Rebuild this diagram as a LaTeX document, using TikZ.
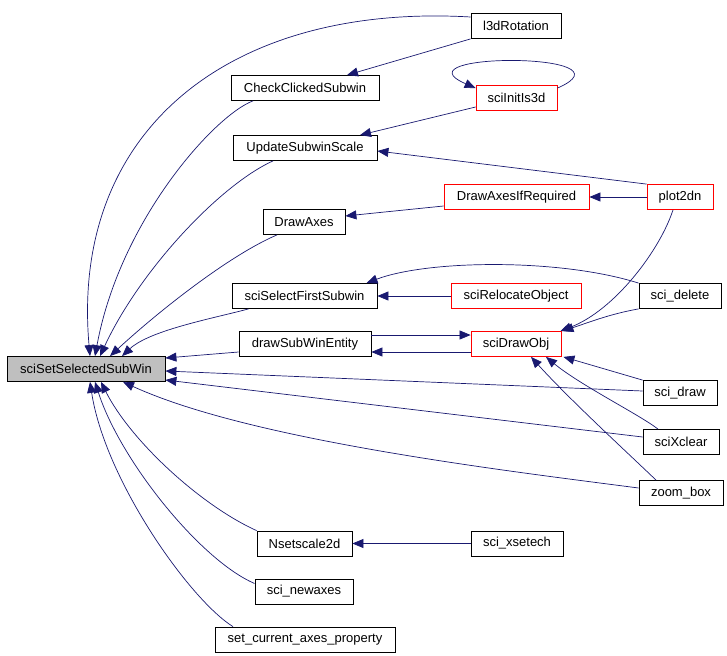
\documentclass[tikz,border=0pt]{standalone}
\usepackage{fontspec}
\setmainfont{Liberation Sans}
\usetikzlibrary{arrows.meta}
\definecolor{edgeblue}{HTML}{191970}
\definecolor{boxgray}{HTML}{BFBFBF}

\begin{document}
\begin{tikzpicture}[x=1pt, y=-1pt,
    fn/.style={draw=black, line width=0.8pt, fill=white, minimum height=25pt,
        inner sep=0pt, font=\fontsize{13}{15}\selectfont},
    fnred/.style={fn, draw=red},
    call/.style={draw=edgeblue, line width=0.7pt, -{Triangle[length=11pt,width=9pt]}}]
    \useasboundingbox (0,0) rectangle (727,655);

    \node[fn, fill=boxgray, minimum width=158pt] (sel) at (86,369) {sciSetSelectedSubWin};
    \node[fn, minimum width=90pt] (rot) at (516,26) {l3dRotation};
    \node[fn, minimum width=148pt] (ccs) at (305,88) {CheckClickedSubwin};
    \node[fnred, minimum width=81pt] (init) at (516.5,98) {sciInitIs3d};
    \node[fn, minimum width=144pt] (uss) at (305,148) {UpdateSubwinScale};
    \node[fnred, minimum width=145pt] (dair) at (516.5,197) {DrawAxesIfRequired};
    \node[fnred, minimum width=66pt] (plot) at (680,197) {plot2dn};
    \node[fn, minimum width=82pt] (dax) at (304,222) {DrawAxes};
    \node[fn, minimum width=145pt] (sfs) at (304.5,296) {sciSelectFirstSubwin};
    \node[fnred, minimum width=130pt] (rel) at (516,296) {sciRelocateObject};
    \node[fn, minimum width=82pt] (del) at (680,296) {sci\_delete};
    \node[fn, minimum width=132pt] (dswe) at (305,344) {drawSubWinEntity};
    \node[fnred, minimum width=90pt] (dobj) at (516,344) {sciDrawObj};
    \node[fn, minimum width=74pt] (draw) at (680,393) {sci\_draw};
    \node[fn, minimum width=76pt] (xcl) at (681,442) {sciXclear};
    \node[fn, minimum width=84pt] (zoom) at (681,493) {zoom\_box};
    \node[fn, minimum width=95pt] (nss) at (304.5,543.5) {Nsetscale2d};
    \node[fn, minimum width=92pt] (xse) at (517,543.5) {sci\_xsetech};
    \node[fn, minimum width=98pt] (newax) at (304,591.5) {sci\_newaxes};
    \node[fn, minimum width=180pt] (scap) at (305,639.5) {set\_current\_axes\_property};

    \draw[call] ([yshift=9]rot.west) .. controls (230,3) and (70,130) .. ([xshift=4]sel.north);
    \draw[call] (rot.south west) -- ([xshift=42]ccs.north);
    \draw[call] ([xshift=-52]ccs.south) .. controls (215,115) and (120,220) .. ([xshift=9]sel.north);
    \draw[call] ([yshift=-3]init.north east) .. controls (640,52) and (393,52) .. ([yshift=-3]init.north west);
    \draw[call] ([yshift=-9]init.west) -- ([xshift=55]uss.north);
    \draw[call] (plot.north west) -- ([yshift=-3]uss.east);
    \draw[call] ([xshift=-32]uss.south) .. controls (220,185) and (140,270) .. ([xshift=14]sel.north);
    \draw[call] (plot) -- (dair);
    \draw[call] ([yshift=-9]dair.west) -- ([yshift=6]dax.east);
    \draw[call] ([xshift=-27]dax.south) .. controls (230,255) and (160,310) .. ([xshift=24]sel.north);
    \draw[call] (del.north west) .. controls (559,258) and (427,260) .. ([xshift=62]sfs.north);
    \draw[call] (rel) -- (sfs);
    \draw[call] ([xshift=-56]sfs.south) .. controls (215,318) and (150,330) .. ([xshift=36]sel.north);
    \draw[call] ([xshift=-7]plot.south) .. controls (660,250) and (615,310) .. ([xshift=-1]dobj.north east);
    \draw[call] (del.south west) .. controls (610,314) and (590,322) .. ([xshift=1]dobj.north east);
    \draw[call] ([yshift=9]dswe.east) -- ([yshift=9]dobj.west);
    \draw[call] ([yshift=-8]dobj.west) -- ([yshift=-8]dswe.east);
    \draw[call] ([yshift=-8]dswe.west) -- ([yshift=11]sel.east);
    \draw[call] ([yshift=2]draw.west) -- ([yshift=-2]sel.east);
    \draw[call] (draw.north west) -- ([xshift=2]dobj.south east);
    \draw[call] ([yshift=5]xcl.west) -- ([yshift=-11]sel.east);
    \draw[call] ([xshift=-23]xcl.north) .. controls (640,415) and (580,385) .. ([xshift=30]dobj.south);
    \draw[call] ([yshift=5]zoom.west) .. controls (500,470) and (250,440) .. ([xshift=37]sel.south);
    \draw[call] ([xshift=-25]zoom.north) .. controls (630,455) and (570,400) .. ([xshift=15]dobj.south);
    \draw[call] (xse) -- (nss);
    \draw[call] (nss.north west) .. controls (200,505) and (130,440) .. ([xshift=15]sel.south);
    \draw[call] ([yshift=8]newax.west) .. controls (200,560) and (120,460) .. ([xshift=9]sel.south);
    \draw[call] ([xshift=-72]scap.north) .. controls (190,600) and (105,480) .. ([xshift=4]sel.south);
\end{tikzpicture}
\end{document}
